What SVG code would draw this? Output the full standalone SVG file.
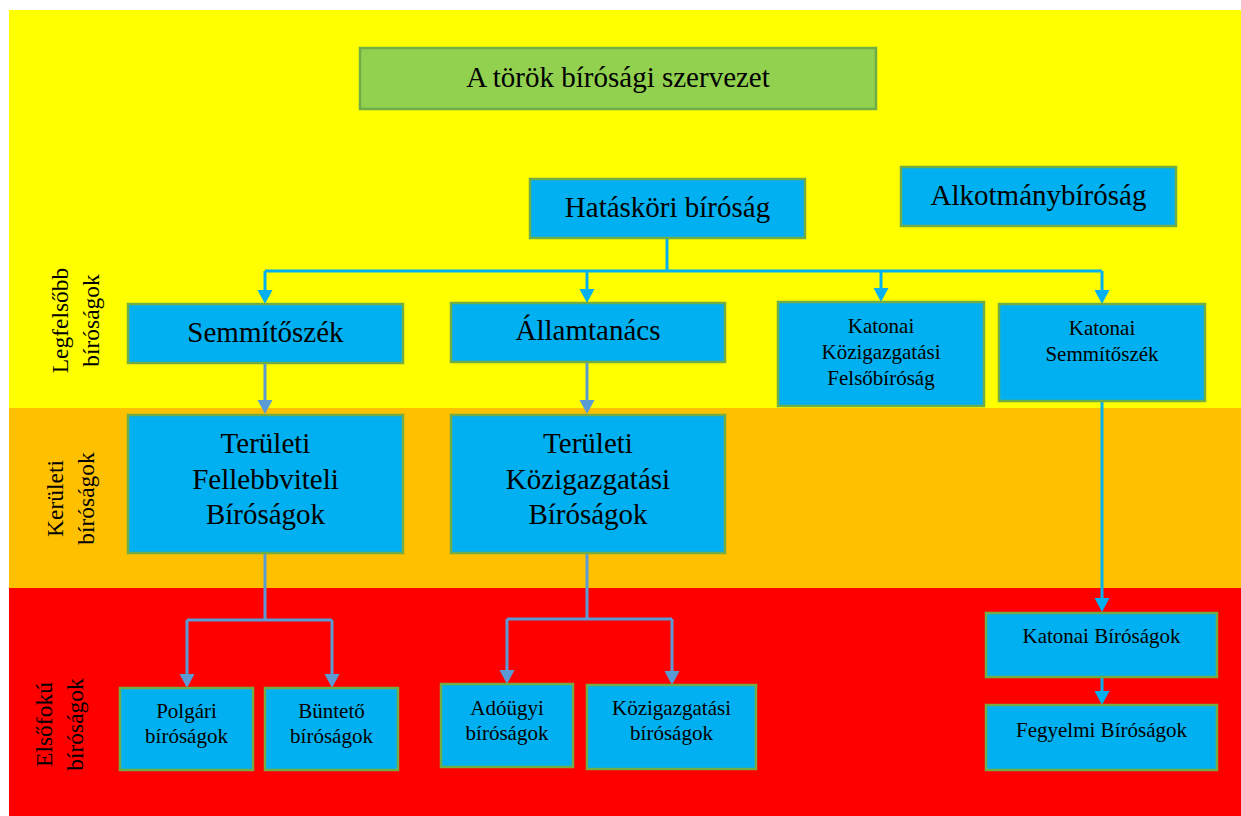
<svg xmlns="http://www.w3.org/2000/svg" width="1241" height="816" viewBox="0 0 1241 816">
<style>
.box{fill:#00B0F0;stroke:#70AD47;stroke-width:2.5}
.title{fill:#92D050;stroke:#70AD47;stroke-width:2.5}
text{font-family:"Liberation Serif","Times New Roman",serif;fill:#000;text-anchor:middle}
.big{font-size:29px}
.sm{font-size:21px}
.side{font-size:23.5px}
.c1{fill:none;stroke:#00B0F0;stroke-width:3}
.c2{fill:none;stroke:#5B9BD5;stroke-width:3}
.c1a{fill:none;stroke:#00B0F0;stroke-width:3;marker-end:url(#a1)}
.c2a{fill:none;stroke:#5B9BD5;stroke-width:3;marker-end:url(#a2)}
</style>
<defs>
<marker id="a1" markerUnits="userSpaceOnUse" markerWidth="14" markerHeight="16" refX="7" refY="8" orient="auto" viewBox="0 0 14 16">
<path d="M0,0.5 L14,8 L0,15.5 z" fill="#00B0F0"/>
</marker>
<marker id="a2" markerUnits="userSpaceOnUse" markerWidth="14" markerHeight="16" refX="7" refY="8" orient="auto" viewBox="0 0 14 16">
<path d="M0,0.5 L14,8 L0,15.5 z" fill="#5B9BD5"/>
</marker>
</defs>
<rect x="0" y="0" width="1241" height="816" fill="#FFFFFF"/>
<g id="bands">
<rect x="9" y="10" width="1232" height="398" fill="#FFFF00"/>
<rect x="9" y="408" width="1232" height="180" fill="#FFC000"/>
<rect x="9" y="588" width="1232" height="228" fill="#FF0000"/>
</g>
<g id="side-labels">
<g transform="translate(68,320.5) rotate(-90)"><text class="side" x="0" y="0">Legfelsőbb</text><text class="side" x="0" y="31">bíróságok</text></g>
<g transform="translate(63,498.5) rotate(-90)"><text class="side" x="0" y="0">Kerületi</text><text class="side" x="0" y="31">bíróságok</text></g>
<g transform="translate(52,724.5) rotate(-90)"><text class="side" x="0" y="0">Elsőfokú</text><text class="side" x="0" y="31">bíróságok</text></g>
</g>
<g id="connectors">
<path class="c1" d="M667,238 V271"/>
<path class="c1" d="M265,271 H1102"/>
<path class="c1a" d="M265,271 V297"/>
<path class="c1a" d="M587,271 V296"/>
<path class="c1a" d="M881,271 V295"/>
<path class="c1a" d="M1102,271 V297"/>
<path class="c2a" d="M265,363 V407"/>
<path class="c2a" d="M587,362 V407"/>
<path class="c2" d="M265,553 V620 M187,620 H332"/>
<path class="c2a" d="M187,620 V681"/>
<path class="c2a" d="M332,620 V681"/>
<path class="c2" d="M587,553 V619 M507,619 H672"/>
<path class="c2a" d="M507,619 V677"/>
<path class="c2a" d="M672,619 V678"/>
<path class="c1a" d="M1102,401 V605"/>
<path class="c1a" d="M1102,677 V698"/>
</g>
<g id="title"><rect class="title" x="360" y="48" width="516" height="61"/><text class="big" x="618" y="87">A török bírósági szervezet</text></g>
<g id="hataskori"><rect class="box" x="530" y="179" width="275" height="59"/><text class="big" x="667.5" y="217">Hatásköri bíróság</text></g>
<g id="alkotmany"><rect class="box" x="901" y="167" width="275" height="59"/><text class="big" x="1038.5" y="205">Alkotmánybíróság</text></g>
<g id="semmitoszek"><rect class="box" x="128" y="304" width="275" height="59"/><text class="big" x="265.5" y="342">Semmítőszék</text></g>
<g id="allamtanacs"><rect class="box" x="451" y="303" width="274" height="59"/><text class="big" x="588" y="340">Államtanács</text></g>
<g id="katonai-kozig"><rect class="box" x="778" y="302" width="206" height="104"/><text class="sm" x="881" y="333">Katonai</text><text class="sm" x="881" y="359">Közigazgatási</text><text class="sm" x="881" y="385">Felsőbíróság</text></g>
<g id="katonai-semm"><rect class="box" x="999" y="304" width="206" height="97"/><text class="sm" x="1102" y="335">Katonai</text><text class="sm" x="1102" y="361">Semmítőszék</text></g>
<g id="teruleti-fell"><rect class="box" x="128" y="415" width="275" height="138"/><text class="big" x="265.5" y="453">Területi</text><text class="big" x="265.5" y="489">Fellebbviteli</text><text class="big" x="265.5" y="524">Bíróságok</text></g>
<g id="teruleti-kozig"><rect class="box" x="451" y="415" width="274" height="138"/><text class="big" x="588" y="453">Területi</text><text class="big" x="588" y="489">Közigazgatási</text><text class="big" x="588" y="524">Bíróságok</text></g>
<g id="polgari"><rect class="box" x="120" y="688" width="133" height="82"/><text class="sm" x="186.5" y="718">Polgári</text><text class="sm" x="186.5" y="743">bíróságok</text></g>
<g id="bunteto"><rect class="box" x="265" y="688" width="133" height="82"/><text class="sm" x="331.5" y="718">Büntető</text><text class="sm" x="331.5" y="743">bíróságok</text></g>
<g id="adougyi"><rect class="box" x="441" y="684" width="132" height="83"/><text class="sm" x="507" y="715">Adóügyi</text><text class="sm" x="507" y="740">bíróságok</text></g>
<g id="kozig"><rect class="box" x="587" y="685" width="169" height="84"/><text class="sm" x="671.5" y="715">Közigazgatási</text><text class="sm" x="671.5" y="740">bíróságok</text></g>
<g id="katonai-birosagok"><rect class="box" x="986" y="613" width="231" height="64"/><text class="sm" x="1101.5" y="643">Katonai Bíróságok</text></g>
<g id="fegyelmi"><rect class="box" x="986" y="705" width="231" height="65"/><text class="sm" x="1101.5" y="737">Fegyelmi Bíróságok</text></g>
</svg>
